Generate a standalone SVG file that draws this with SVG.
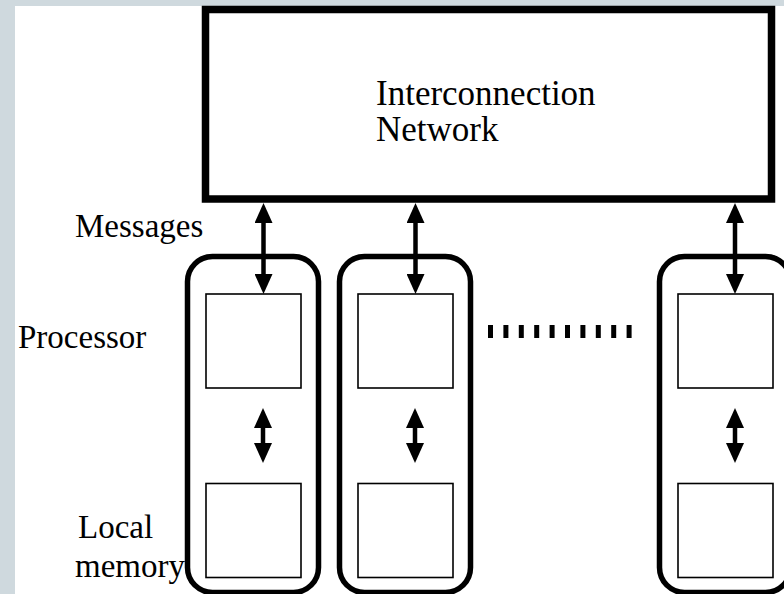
<svg xmlns="http://www.w3.org/2000/svg" width="784" height="594" viewBox="0 0 784 594">
<style>
.t{font-family:"Liberation Serif","Times New Roman",serif;font-size:33px;fill:#000}
.mod{fill:none;stroke:#000;stroke-width:5.5}
.inner{fill:#fff;stroke:#000;stroke-width:1.6}
.conn{stroke:#000;stroke-width:4.5;fill:none}
</style>
<defs>
<marker id="ah" viewBox="0 0 20 18" refX="13" refY="9" markerWidth="20" markerHeight="18" markerUnits="userSpaceOnUse" orient="auto-start-reverse">
<path d="M0,0 L20,9 L0,18 z" fill="#000"/>
</marker>
</defs>
<rect x="0" y="0" width="784" height="594" fill="#fff"/>
<rect x="0" y="0" width="784" height="6" fill="#cfd9de"/>
<rect x="0" y="0" width="15" height="594" fill="#cfd9de"/>
<g id="network">
<rect x="205.5" y="9.5" width="566" height="189.5" fill="#fff" stroke="#000" stroke-width="7.5"/>
<text class="t" x="376" y="105" style="font-size:35px">Interconnection</text>
<text class="t" x="376" y="141" style="font-size:35px">Network</text>
</g>
<g id="node1">
<rect class="mod" x="187.5" y="256.5" width="131" height="336" rx="25" ry="25"/>
<rect class="inner" x="206" y="294" width="95" height="94"/>
<rect class="inner" x="206" y="483.5" width="95" height="94"/>
</g>
<g id="node2">
<rect class="mod" x="339.5" y="256.5" width="131" height="336" rx="25" ry="25"/>
<rect class="inner" x="358" y="294" width="95" height="94"/>
<rect class="inner" x="358" y="483.5" width="95" height="94"/>
</g>
<g id="node3">
<rect class="mod" x="659.5" y="256.5" width="131" height="336" rx="25" ry="25"/>
<rect class="inner" x="678" y="294" width="95" height="94"/>
<rect class="inner" x="678" y="483.5" width="95" height="94"/>
</g>
<g id="ellipsis">
<line x1="488" y1="331.5" x2="632" y2="331.5" stroke="#000" stroke-width="13" stroke-dasharray="5 10.4"/>
</g>
<g id="connectors">
<line class="conn" x1="263.5" y1="210" x2="263.5" y2="287" marker-start="url(#ah)" marker-end="url(#ah)"/>
<line class="conn" x1="415.5" y1="210" x2="415.5" y2="287" marker-start="url(#ah)" marker-end="url(#ah)"/>
<line class="conn" x1="735" y1="210" x2="735" y2="287" marker-start="url(#ah)" marker-end="url(#ah)"/>
<line class="conn" x1="263" y1="415" x2="263" y2="456" marker-start="url(#ah)" marker-end="url(#ah)"/>
<line class="conn" x1="415" y1="415" x2="415" y2="456" marker-start="url(#ah)" marker-end="url(#ah)"/>
<line class="conn" x1="735" y1="415" x2="735" y2="456" marker-start="url(#ah)" marker-end="url(#ah)"/>
</g>
<g id="labels">
<text class="t" x="75" y="237">Messages</text>
<text class="t" x="18" y="348">Processor</text>
<text class="t" x="78" y="538">Local</text>
<text class="t" x="75" y="577">memory</text>
</g>
</svg>
